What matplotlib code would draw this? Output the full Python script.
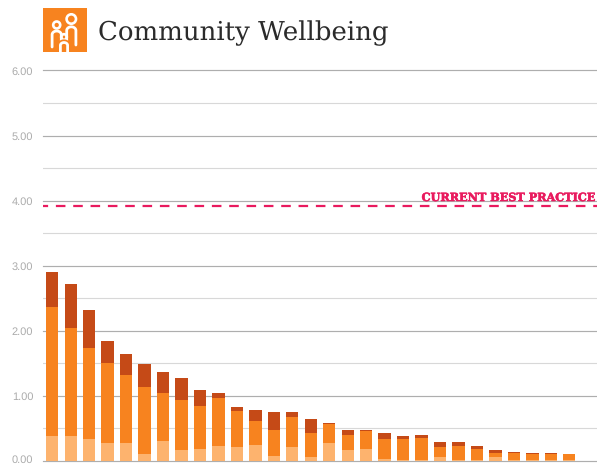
import matplotlib
matplotlib.use("Agg")
import matplotlib.pyplot as plt
import matplotlib.patheffects as pe
from matplotlib.patches import Circle, Rectangle
from matplotlib.transforms import ScaledTranslation
import numpy as np

plt.rcParams['font.family'] = ['Liberation Sans', 'DejaVu Sans']
plt.rcParams['text.hinting'] = 'no_hinting'
plt.rcParams['text.hinting_factor'] = 1

# segment heights of each stacked bar
light = [0.39, 0.39, 0.34, 0.28, 0.28, 0.10, 0.30, 0.17, 0.19, 0.23,
         0.21, 0.25, 0.08, 0.21, 0.06, 0.28, 0.17, 0.185, 0.03, 0.015,
         0.015, 0.06, 0.015, 0.01, 0.06, 0.01, 0.015, 0.015, 0.01, 0]
mid = [1.98, 1.65, 1.40, 1.22, 1.04, 1.04, 0.75, 0.76, 0.66, 0.74,
       0.56, 0.37, 0.40, 0.47, 0.37, 0.295, 0.23, 0.275, 0.31, 0.325,
       0.335, 0.155, 0.215, 0.175, 0.06, 0.115, 0.085, 0.085, 0.09, 0]
dark = [0.54, 0.68, 0.58, 0.35, 0.32, 0.35, 0.31, 0.35, 0.24, 0.08,
        0.06, 0.165, 0.28, 0.08, 0.21, 0.01, 0.08, 0.01, 0.09, 0.04,
        0.05, 0.07, 0.06, 0.045, 0.055, 0.01, 0.02, 0.02, 0.005, 0]
best_practice = 3.92
y_ticks = [0, 1, 2, 3, 4, 5, 6]
y_minor = [0.5, 1.5, 2.5, 3.5, 4.5, 5.5]

W, H = 597, 465
col_light = '#FDB36E'
col_mid = '#F7831F'
col_dark = '#C54A17'
col_pink = '#E91A5E'
col_icon = '#F7831F'

fig = plt.figure(figsize=(W / 100, H / 100), dpi=100, facecolor='white')
ax = fig.add_axes([43 / W, (H - 461) / H, (597 - 43) / W, (461 - 70.5) / H])

x = np.arange(len(light))
light_a, mid_a, dark_a = np.array(light), np.array(mid), np.array(dark)
ax.bar(x, light_a, width=0.67, color=col_light, zorder=3)
ax.bar(x, mid_a, width=0.67, bottom=light_a, color=col_mid, zorder=3)
ax.bar(x, dark_a, width=0.67, bottom=light_a + mid_a, color=col_dark, zorder=3)

ax.set_xlim(-0.5, 29.5)
ax.set_ylim(0, 6)
ax.set_xticks([])
ax.set_yticks(y_ticks)
ax.set_yticklabels(['%.2f' % t for t in y_ticks], fontsize=8, color='#ababab')
ax.tick_params(axis='y', length=0, pad=7)
for spine in ax.spines.values():
    spine.set_visible(False)
for t in y_ticks:
    ax.axhline(t, color='#aeaeae', lw=0.85, zorder=1, clip_on=False)
for t in y_minor:
    ax.axhline(t, color='#d8d8d8', lw=0.8, zorder=1)

# the bottom label would run off the edge otherwise
bottom_label = ax.get_yticklabels()[0]
bottom_label.set_transform(bottom_label.get_transform() + ScaledTranslation(0, 2 / 100, fig.dpi_scale_trans))

ax.axhline(best_practice, color=col_pink, lw=1.6, zorder=4,
           linestyle=(2.0, (4.3, 3.5)), dash_capstyle='butt')
ax.text(591.5 / W, (H - 201) / H, 'CURRENT BEST PRACTICE', transform=fig.transFigure,
        family='DejaVu Serif', fontweight='bold', fontsize=8.1, color=col_pink,
        ha='right', va='baseline', zorder=5,
        path_effects=[pe.withStroke(linewidth=0.4, foreground=col_pink)])

fig.text(98 / W, (H - 40) / H, 'Community Wellbeing', family='DejaVu Serif',
         fontsize=18.7, color='#2b2b2b', ha='left', va='baseline')

# logo, drawn in pixel coordinates
logo = fig.add_axes([0, 0, 1, 1], facecolor='none')
logo.set_xlim(0, W)
logo.set_ylim(H, 0)
logo.axis('off')
logo.add_patch(Rectangle((43, 8), 44, 44, color=col_icon, lw=0))
t = np.linspace(np.pi, 0, 30)


def person(cx, cy, r, rx, top, bottom, halo=False):
    xs = np.r_[cx - rx, cx + rx * np.cos(t), cx + rx]
    ys = np.r_[bottom, top - rx * 0.8 * np.sin(t), bottom]
    if halo:
        logo.plot(xs, ys, color=col_icon, lw=4.5, solid_capstyle='butt')
        logo.add_patch(Circle((cx, cy), r + 1.8, fc=col_icon, ec='none'))
    logo.add_patch(Circle((cx, cy), r, fc='none', ec='white', lw=1.9))
    logo.plot(xs, ys, color='white', lw=2.0, solid_capstyle='butt' if halo else 'round')


person(71.3, 19, 4.7, 4.6, 30.5, 45)
person(56.7, 25, 3.5, 4.6, 34.7, 47)
person(64, 37, 2.8, 3.6, 45.4, 52, halo=True)

fig.savefig('out.png', dpi=100, facecolor='white')
